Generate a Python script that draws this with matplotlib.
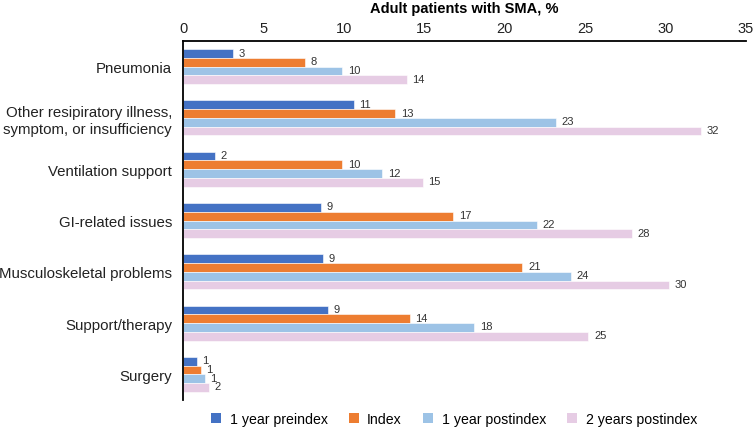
import numpy as np
import matplotlib.pyplot as plt
from matplotlib.patches import Patch

plt.rcParams['font.family'] = ['Liberation Sans', 'DejaVu Sans']

# data
categories = ['Pneumonia', 'Other resipiratory illness,\nsymptom, or insufficiency',
              'Ventilation support', 'GI-related issues', 'Musculoskeletal problems',
              'Support/therapy', 'Surgery']
series = ['1 year preindex', 'Index', '1 year postindex', '2 years postindex']
pre_1y = [3.1, 10.6, 2.0, 8.6, 8.7, 9.0, 0.85]
index = [7.6, 13.2, 9.9, 16.8, 21.1, 14.1, 1.1]
post_1y = [9.9, 23.2, 12.4, 22.0, 24.1, 18.1, 1.35]
post_2y = [13.9, 32.2, 14.9, 27.9, 30.2, 25.2, 1.6]
# labels as printed on the chart
lab_pre_1y = [3, 11, 2, 9, 9, 9, 1]
lab_index = [8, 13, 10, 17, 21, 14, 1]
lab_post_1y = [10, 23, 12, 22, 24, 18, 1]
lab_post_2y = [14, 32, 15, 28, 30, 25, 2]

colors = ['#4472C4', '#ED7D31', '#9DC3E6', '#E6CCE4']

fig = plt.figure(figsize=(7.53, 4.31), dpi=100)
ax = fig.add_axes([183/753, 30/431, 563/753, 359/431])

h = 0.17
y = np.arange(len(categories))
vals = [pre_1y, index, post_1y, post_2y]
labs = [lab_pre_1y, lab_index, lab_post_1y, lab_post_2y]
for i in range(4):
    yy = y - 1.5*h + i*h
    ax.barh(yy, vals[i], height=h, color=colors[i], edgecolor='white', linewidth=0.4)
    for v, t, yp in zip(vals[i], labs[i], yy):
        ax.text(v + 0.35, yp - 0.02, str(t), va='center', ha='left', fontsize=8, color='#333333')

ax.set_xlim(0, 35)
ax.set_ylim(len(categories) - 0.5, -0.5)
ax.set_yticks(y)
ax.set_yticklabels(categories, fontsize=10.8, color='#222222')
ax.set_xticks(range(0, 36, 5))
ax.xaxis.tick_top()
ax.tick_params(axis='x', length=0, labelsize=10.5, pad=4, labelcolor='#222222')
ax.tick_params(axis='y', length=0, pad=8)
ax.set_title('Adult patients with SMA, %', fontsize=10.5, fontweight='bold', pad=7)

ax.spines['right'].set_visible(False)
ax.spines['bottom'].set_visible(False)
ax.spines['top'].set_linewidth(1.3)
ax.spines['left'].set_linewidth(1.3)

handles = [Patch(facecolor=c, label=s) for c, s in zip(colors, series)]
fig.legend(handles=handles, loc='center', bbox_to_anchor=(0.603, 0.025), ncol=4,
           frameon=False, fontsize=10.2, handlelength=0.7, handleheight=0.7,
           columnspacing=1.5, handletextpad=0.6)

fig.savefig('out.png', dpi=100)
